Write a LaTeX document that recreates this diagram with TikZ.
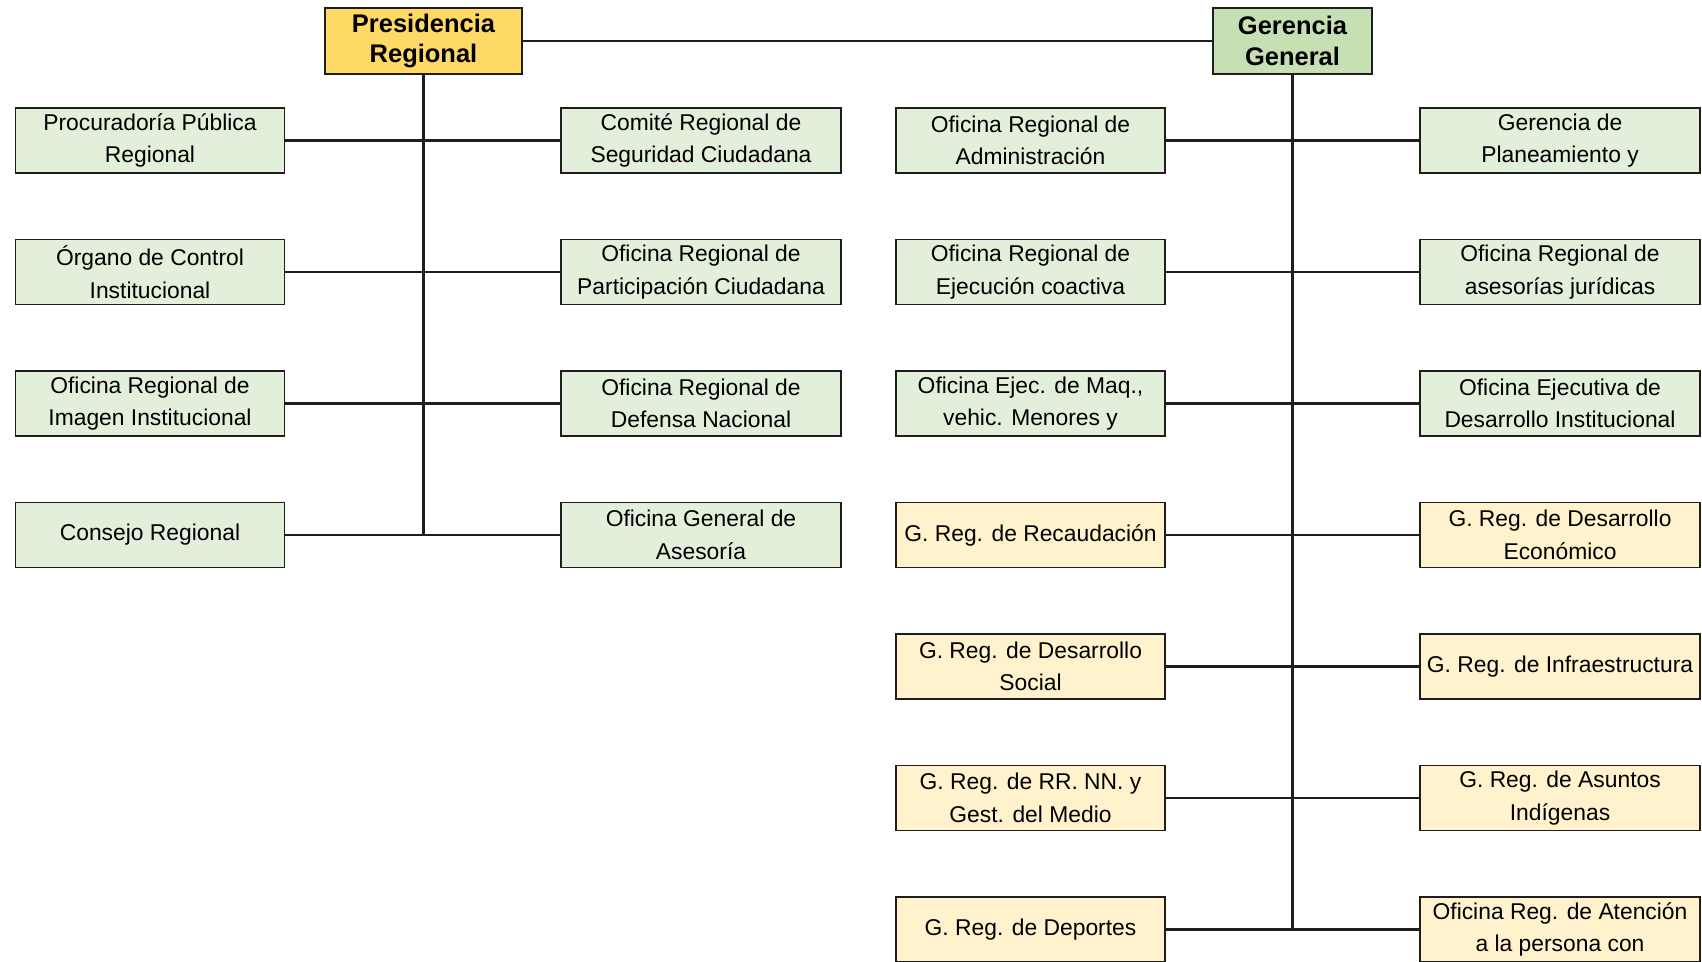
\documentclass[tikz,border=0pt]{standalone}
\usepackage{fontspec}
\setmainfont{Liberation Sans}
\definecolor{boxgreen}{HTML}{E2EFDA}
\definecolor{boxyellow}{HTML}{FFF2CC}
\definecolor{topyellow}{HTML}{FFD966}
\definecolor{topgreen}{HTML}{C6E0B4}
\definecolor{edge}{HTML}{1E1E1E}
\begin{document}
\begin{tikzpicture}[x=0.02cm, y=-0.02cm, font=\fontsize{13}{18.5}\selectfont]
      \tikzset{unit/.style={draw=edge, line width=1.1pt, inner sep=0pt, minimum height=1.3cm, align=center},
               narrow/.style={unit, minimum width=5.38cm},
               wide/.style={unit, minimum width=5.6cm},
               head/.style={draw=edge, line width=1.1pt, inner sep=0pt, minimum height=1.32cm, align=center, font=\fontsize{14.5}{17.5}\selectfont\bfseries},
               link/.style={draw=edge, line width=1.2pt}}
      \useasboundingbox (0,0) rectangle (1702,962);
      \node[head, fill=topyellow, minimum width=3.94cm] (pres) at (423.5,41) {Presidencia\\Regional};
      \node[head, fill=topgreen, minimum width=3.18cm] (ger) at (1292.5,41) {Gerencia\\General};
      \node[narrow, fill=boxgreen] (proc) at (150,140.5) {Procuradoría Pública\\Regional};
      \node[wide, fill=boxgreen] (comite) at (701,140.5) {Comité Regional de\\Seguridad Ciudadana};
      \node[narrow, fill=boxgreen] (organo) at (150,272) {Órgano de Control\\Institucional};
      \node[wide, fill=boxgreen] (partic) at (701,272) {Oficina Regional de\\Participación Ciudadana};
      \node[narrow, fill=boxgreen] (imagen) at (150,403.5) {Oficina Regional de\\Imagen Institucional};
      \node[wide, fill=boxgreen] (defensa) at (701,403.5) {Oficina Regional de\\Defensa Nacional};
      \node[narrow, fill=boxgreen] (consejo) at (150,535) {Consejo Regional};
      \node[wide, fill=boxgreen] (asesoria) at (701,535) {Oficina General de\\Asesoría};
      \node[narrow, fill=boxgreen] (admin) at (1030.5,140.5) {Oficina Regional de\\Administración};
      \node[wide, fill=boxgreen] (planea) at (1560,140.5) {Gerencia de\\Planeamiento y};
      \node[narrow, fill=boxgreen] (coactiva) at (1030.5,272) {Oficina Regional de\\Ejecución coactiva};
      \node[wide, fill=boxgreen] (juridica) at (1560,272) {Oficina Regional de\\asesorías jurídicas};
      \node[narrow, fill=boxgreen] (maq) at (1030.5,403.5) {Oficina Ejec. de Maq.,\\vehic. Menores y};
      \node[wide, fill=boxgreen] (desinst) at (1560,403.5) {Oficina Ejecutiva de\\Desarrollo Institucional};
      \node[narrow, fill=boxyellow] (recaud) at (1030.5,535) {G. Reg. de Recaudación};
      \node[wide, fill=boxyellow] (deseco) at (1560,535) {G. Reg. de Desarrollo\\Económico};
      \node[narrow, fill=boxyellow] (dessoc) at (1030.5,666.5) {G. Reg. de Desarrollo\\Social};
      \node[wide, fill=boxyellow] (infra) at (1560,666.5) {G. Reg. de Infraestructura};
      \node[narrow, fill=boxyellow] (rrnn) at (1030.5,798) {G. Reg. de RR. NN. y\\Gest. del Medio};
      \node[wide, fill=boxyellow] (indig) at (1560,798) {G. Reg. de Asuntos\\Indígenas};
      \node[narrow, fill=boxyellow] (deport) at (1030.5,929.5) {G. Reg. de Deportes};
      \node[wide, fill=boxyellow] (atencion) at (1560,929.5) {Oficina Reg. de Atención\\a la persona con};
      \draw[link] (pres) -- (ger);
      \draw[link] (pres.south) -- (pres.south |- consejo.east);
      \draw[link] (ger.south) -- (ger.south |- deport.east);
      \draw[link] (proc) -- (comite);
      \draw[link] (organo) -- (partic);
      \draw[link] (imagen) -- (defensa);
      \draw[link] (consejo) -- (asesoria);
      \draw[link] (admin) -- (planea);
      \draw[link] (coactiva) -- (juridica);
      \draw[link] (maq) -- (desinst);
      \draw[link] (recaud) -- (deseco);
      \draw[link] (dessoc) -- (infra);
      \draw[link] (rrnn) -- (indig);
      \draw[link] (deport) -- (atencion);
    \end{tikzpicture}
\end{document}
